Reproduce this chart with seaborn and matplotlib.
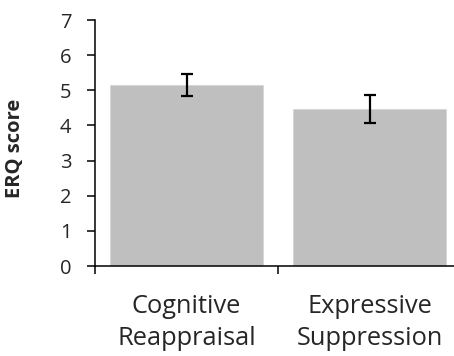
import matplotlib
matplotlib.use("Agg")
import matplotlib.pyplot as plt
import seaborn as sns
import pandas as pd

categories = ["Cognitive\nReappraisal", "Expressive\nSuppression"]
means = [5.16, 4.46]
errors = [0.31, 0.40]
yticks = [0, 1, 2, 3, 4, 5, 6, 7]

sns.set_theme(style="white")
plt.rcParams["font.family"] = ["Open Sans", "DejaVu Sans"]

W, H = 454, 356
fig = plt.figure(figsize=(W / 100, H / 100), dpi=100)
left, right, bottom, top = 95, 461, 266, 20
ax = fig.add_axes([left / W, (H - bottom) / H, (right - left) / W, (bottom - top) / H])

df = pd.DataFrame({"category": categories, "score": means})
sns.barplot(data=df, x="category", y="score", color="#bfbfbf", saturation=1,
            width=0.84, ax=ax, edgecolor="#d6d6d6", linewidth=0.6)
ax.errorbar(range(len(categories)), means, yerr=errors, fmt="none",
            ecolor="black", elinewidth=1.6, capsize=4.5, capthick=1.6)

ax.set_xlim(-0.5, 1.5)
ax.set_ylim(0, 7)
ax.set_yticks(yticks)
ax.set_yticklabels([str(t) for t in yticks], fontsize=14.5)
ax.tick_params(axis="y", direction="out", length=6, width=1.1, color="black",
               pad=11, left=True)
ax.set_xticks([0, 1])
ax.set_xticklabels(categories, fontsize=18.3, linespacing=1.4)
ax.tick_params(axis="x", which="major", length=0, pad=20)
ax.set_xticks([-0.5, 0.5, 1.5], minor=True)
ax.tick_params(axis="x", which="minor", direction="out", length=6, width=1.1,
               color="black", bottom=True)

for s in ["top", "right"]:
    ax.spines[s].set_visible(False)
for s in ["left", "bottom"]:
    ax.spines[s].set_color("black")
    ax.spines[s].set_linewidth(1.1)

ax.set_xlabel("")
ax.set_ylabel("ERQ score", fontsize=14.5, fontweight="bold")
ax.yaxis.set_label_coords(-0.19, 0.48)

fig.savefig("out.png", dpi=100)
